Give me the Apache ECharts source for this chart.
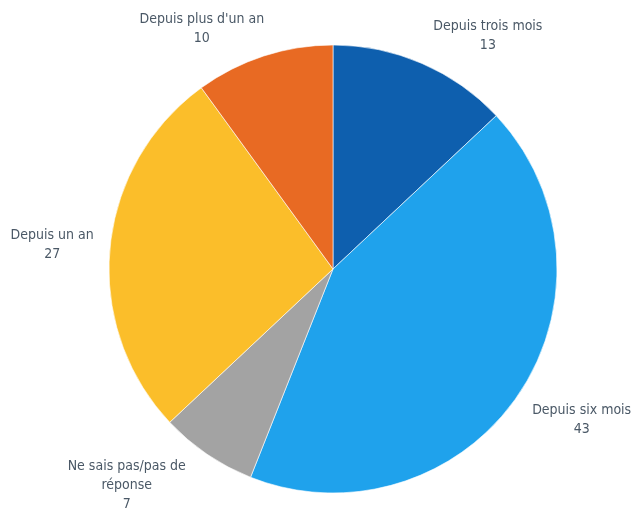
<!DOCTYPE html>
<html>
<head>
<meta charset="utf-8">
<script src="https://cdn.jsdelivr.net/npm/echarts@6/dist/echarts.min.js"></script>
<style>
  html, body { margin: 0; padding: 0; background: #fff; }
  #chart { width: 633px; height: 511px; }
</style>
</head>
<body>
<div id="chart"></div>
<script>
// catégories et valeurs (sens horaire depuis midi)
const categories = ["Depuis trois mois", "Depuis six mois", "Ne sais pas/pas de\nréponse", "Depuis un an", "Depuis plus d'un an"];
const values = [13, 43, 7, 27, 10];
const colors = ["#0e5fae", "#1fa2ec", "#a3a3a3", "#fbbe2a", "#e86a23"];
// longueur des (invisibles) lignes de label, par part
const labelLen = [30, 44, 38, 35, 29];
const labelLen2 = [49, 22, 54, 18, 48];

const chart = echarts.init(document.getElementById("chart"));

const option = {
  animation: false,
  backgroundColor: "#fff",
  series: [
    {
      type: "pie",
      center: [333, 269],
      radius: 224,
      startAngle: 90,
      clockwise: true,
      avoidLabelOverlap: false,
      itemStyle: { borderColor: "#fff", borderWidth: 0.6 },
      label: {
        show: true,
        position: "outside",
        formatter: "{b}\n{c}",
        color: "#4a5866",
        fontFamily: "'Liberation Sans Narrow', 'DejaVu Sans Condensed', sans-serif",
        fontSize: 14,
        lineHeight: 19,
        width: 150,
        overflow: "none",
      },
      labelLine: { show: false },
      labelLayout: function () {
        return { align: "center" };
      },
      data: categories.map((name, i) => ({
        name: name,
        value: values[i],
        itemStyle: { color: colors[i] },
        labelLine: { show: false, length: labelLen[i], length2: labelLen2[i] },
      })),
    },
  ],
};

chart.setOption(option);
</script>
</body>
</html>
